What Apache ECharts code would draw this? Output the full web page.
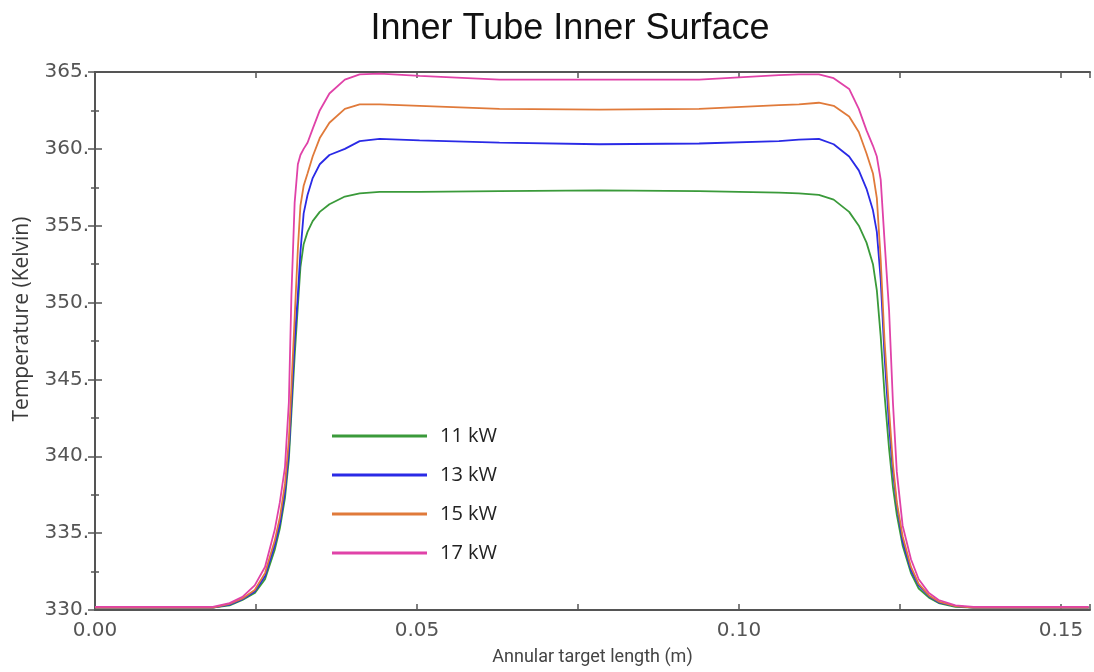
<!DOCTYPE html>
<html>
<head>
<meta charset="utf-8">
<script src="https://cdn.jsdelivr.net/npm/echarts@6/dist/echarts.min.js"></script>
<style>
html,body{margin:0;padding:0;background:#fff;}
#chart{width:1094px;height:672px;}
</style>
</head>
<body>
<div id="chart"></div>
<script>
// Annular target length (m)
const xPositions = [0.0000, 0.0101, 0.0183, 0.0209, 0.0229, 0.0248, 0.0264, 0.0279, 0.0287, 0.0295,
  0.0301, 0.0305, 0.0310, 0.0315, 0.0319, 0.0324, 0.0330, 0.0338, 0.0349, 0.0364,
  0.0388, 0.0411, 0.0442, 0.0504, 0.0628, 0.0783, 0.0938, 0.1062, 0.1093, 0.1124,
  0.1147, 0.1171, 0.1186, 0.1198, 0.1208, 0.1214, 0.1220, 0.1226, 0.1233, 0.1239,
  0.1245, 0.1254, 0.1267, 0.1279, 0.1295, 0.1310, 0.1336, 0.1364, 0.1403, 0.1543];

const seriesNames = ['11 kW', '13 kW', '15 kW', '17 kW'];

const temp11kW = [330.15, 330.15, 330.15, 330.3, 330.65, 331.1, 332.0, 333.9, 335.3, 337.3,
  339.8, 342.8, 346.5, 349.8, 352.3, 353.8, 354.6, 355.3, 355.9, 356.4,
  356.9, 357.1, 357.2, 357.2, 357.25, 357.3, 357.25, 357.15, 357.1, 357.0,
  356.7, 355.9, 355.0, 353.9, 352.5, 350.8, 347.8, 344.0, 340.5, 338.0,
  336.2, 334.2, 332.4, 331.4, 330.8, 330.45, 330.2, 330.15, 330.15, 330.15];

const temp13kW = [330.15, 330.15, 330.15, 330.35, 330.7, 331.2, 332.2, 334.2, 335.6, 337.7,
  340.3, 343.5, 347.5, 350.5, 353.3, 355.8, 357.0, 358.1, 359.0, 359.6,
  360.0, 360.5, 360.65, 360.55, 360.4, 360.3, 360.35, 360.5, 360.6, 360.65,
  360.3, 359.5, 358.6, 357.4, 356.0, 354.6, 351.5, 346.5, 342.0, 339.0,
  336.8, 334.5, 332.6, 331.6, 330.9, 330.5, 330.25, 330.15, 330.15, 330.15];

const temp15kW = [330.15, 330.15, 330.15, 330.4, 330.75, 331.3, 332.4, 334.5, 336.0, 338.2,
  341.0, 344.5, 349.0, 353.5, 356.3, 357.6, 358.4, 359.5, 360.7, 361.7,
  362.6, 362.9, 362.9, 362.8, 362.6, 362.55, 362.6, 362.85, 362.9, 363.0,
  362.8, 362.1, 361.1, 359.7, 358.4, 356.8, 352.8, 347.5, 343.0, 339.5,
  337.0, 334.8, 332.8, 331.7, 330.95, 330.55, 330.25, 330.15, 330.15, 330.15];

const temp17kW = [330.2, 330.2, 330.2, 330.45, 330.85, 331.6, 332.8, 335.2, 337.0, 339.3,
  343.5, 350.5, 356.5, 359.0, 359.6, 360.0, 360.4, 361.3, 362.5, 363.6,
  364.5, 364.85, 364.9, 364.75, 364.5, 364.5, 364.5, 364.8, 364.85, 364.85,
  364.6, 363.9, 362.6, 361.2, 360.2, 359.5, 358.0, 354.0, 349.5, 343.5,
  339.0, 335.5, 333.3, 332.0, 331.1, 330.65, 330.3, 330.2, 330.2, 330.2];

const yTicks = [330, 335, 340, 345, 350, 355, 360, 365];
const xTicks = [0.00, 0.05, 0.10, 0.15];

const seriesValues = [temp11kW, temp13kW, temp15kW, temp17kW];
const colors = ['#3a9a3a', '#2a2ae6', '#e07a3a', '#e042a8'];

const chart = echarts.init(document.getElementById('chart'), null, {renderer: 'canvas'});

const tickFont = {fontFamily: 'DejaVu Sans', fontSize: 20, color: '#555'};
const axisLine = {show: true, lineStyle: {color: '#555', width: 2}};

function isMajorX(v) {
  return xTicks.some(t => Math.abs(t - v) < 1e-6);
}

const option = {
  backgroundColor: '#fff',
  animation: false,
  title: {
    text: 'Inner Tube Inner Surface',
    left: 565,
    textAlign: 'center',
    top: 6,
    textStyle: {fontFamily: 'Liberation Sans', fontSize: 36, fontWeight: 'normal', color: '#111'}
  },
  legend: {
    orient: 'vertical',
    left: 332,
    top: 426,
    padding: 0,
    itemWidth: 95,
    itemHeight: 3,
    itemGap: 19,
    icon: 'rect',
    data: seriesNames,
    textStyle: {fontFamily: 'Open Sans', fontSize: 20, color: '#222', lineHeight: 20, padding: [0, 0, 0, 8]}
  },
  grid: {left: 95, right: 4, top: 72, bottom: 62, containLabel: false},
  xAxis: [{
    type: 'value',
    min: 0,
    max: 0.1545,
    interval: 0.025,
    name: 'Annular target length (m)',
    nameLocation: 'middle',
    nameGap: 38,
    nameTextStyle: {fontFamily: 'Roboto', fontSize: 18, color: '#444'},
    axisLine: axisLine,
    axisTick: {show: true, inside: true, length: 6, lineStyle: {color: '#555', width: 1.5}},
    axisLabel: {
      show: true, margin: 11, ...tickFont,
      formatter: v => isMajorX(v) ? v.toFixed(2) : ''
    },
    splitLine: {show: false}
  }, {
    type: 'value',
    position: 'top',
    min: 0,
    max: 0.1545,
    interval: 0.025,
    axisLine: axisLine,
    axisTick: {show: true, inside: true, length: 6, lineStyle: {color: '#555', width: 1.5}},
    axisLabel: {show: false},
    splitLine: {show: false}
  }],
  yAxis: [{
    type: 'value',
    min: 330,
    max: 365,
    interval: 5,
    name: 'Temperature (Kelvin)',
    nameLocation: 'middle',
    nameRotate: 90,
    nameGap: 62,
    nameTextStyle: {fontFamily: 'Open Sans', fontSize: 21, color: '#3a3a3a', padding: [0, 0, 0, 44]},
    axisLine: axisLine,
    axisTick: {show: true, inside: true, length: 7, lineStyle: {color: '#555', width: 1.5}},
    minorTick: {show: true, splitNumber: 2, length: 4, lineStyle: {color: '#555', width: 1.5}},
    axisLabel: {show: true, margin: 6, ...tickFont, formatter: v => v + '.'},
    splitLine: {show: false}
  }, {
    type: 'value',
    position: 'right',
    min: 330,
    max: 365,
    interval: 5,
    axisLine: axisLine,
    axisTick: {show: true, inside: true, length: 7, lineStyle: {color: '#555', width: 1.5}},
    minorTick: {show: true, splitNumber: 2, length: 4, lineStyle: {color: '#555', width: 1.5}},
    axisLabel: {show: false},
    splitLine: {show: false}
  }],
  series: seriesNames.map((name, i) => ({
    name: name,
    type: 'line',
    xAxisIndex: 0,
    yAxisIndex: 0,
    showSymbol: false,
    symbol: 'none',
    smooth: false,
    color: colors[i],
    lineStyle: {color: colors[i], width: 1.8},
    data: xPositions.map((x, j) => [x, seriesValues[i][j]])
  }))
};

chart.setOption(option);
</script>
</body>
</html>
